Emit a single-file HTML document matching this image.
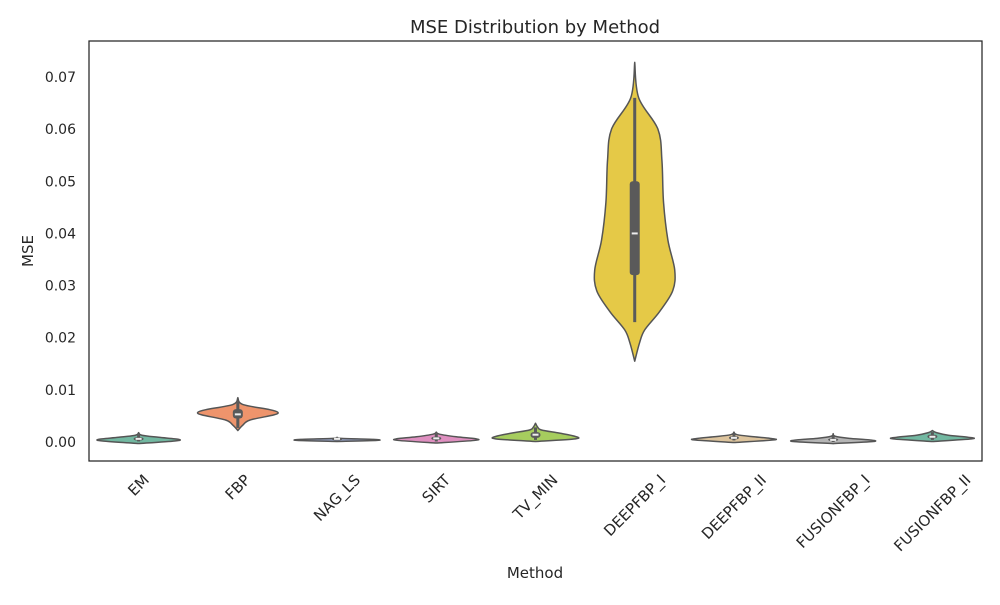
<!DOCTYPE html>
<html><head><meta charset="utf-8"><style>
body{margin:0;background:#fff;font-family:"Liberation Sans","DejaVu Sans",sans-serif}
svg text{font-family:"DejaVu Sans","Liberation Sans",sans-serif;fill:#262626}
</style></head><body>
<svg id="chart" width="1000" height="600">
<rect width="1000" height="600" fill="#fff"/>
<text x="535" y="33" font-size="18" text-anchor="middle">MSE Distribution by Method</text>
<g id="plot"></g>
<rect x="89" y="41" width="893" height="420" fill="none" stroke="#262626" stroke-width="1.25"/>
<text x="535" y="578" font-size="15" text-anchor="middle">Method</text>
<text transform="translate(33,251) rotate(-90)" font-size="15" text-anchor="middle">MSE</text>
</svg>
<script>
const categories=["EM","FBP","NAG_LS","SIRT","TV_MIN","DEEPFBP_I","DEEPFBP_II","FUSIONFBP_I","FUSIONFBP_II"];
const colors=["#72b8a1","#ee946c","#95a2c6","#df8fc0","#a6cd5e","#e5c947","#ddc49d","#b5b5b5","#72b8a1"];
const yTicks=[0,0.01,0.02,0.03,0.04,0.05,0.06,0.07];
const yTickLabels=["0.00","0.01","0.02","0.03","0.04","0.05","0.06","0.07"];
const profVals=[
[-0.0003,0.0002,0.0005,0.0009,0.0013,0.0018],
[0.0022,0.0032,0.0042,0.0052,0.0057,0.0062,0.0072,0.0085],
[0.0001,0.0003,0.0005,0.0007,0.0009],
[-0.0002,0.0003,0.0006,0.001,0.0015,0.0019],
[0.0001,0.0006,0.0011,0.0017,0.0023,0.0029,0.0036],
[0.0155,0.019,0.0215,0.025,0.029,0.033,0.0387,0.046,0.054,0.06,0.066,0.0728],
[-0.0001,0.0004,0.0007,0.001,0.0014,0.0019],
[-0.0003,0.0001,0.0004,0.0007,0.0011,0.0016],
[0.0001,0.0006,0.0009,0.0013,0.0018,0.0022]];
const profW=[
[0,0.9,1,0.5,0.08,0],
[0,0.12,0.3,0.9,1,0.8,0.12,0],
[0,1,0.9,0.1,0],
[0,0.95,1,0.5,0.08,0],
[0,1,0.98,0.6,0.15,0.05,0],
[0,0.12,0.25,0.62,0.95,1,0.83,0.72,0.68,0.58,0.1,0],
[0,1,0.9,0.5,0.08,0],
[0,1,0.9,0.4,0.05,0],
[0,0.98,0.9,0.4,0.1,0]];
const whiskLo=[0.0001,0.0027,0.0004,0.0001,0.0004,0.023,0.0003,0.0,0.0004];
const q1=[0.0003,0.0045,0.0005,0.0004,0.0008,0.032,0.0005,0.0002,0.0007];
const med=[0.0006,0.0053,0.0006,0.0007,0.0014,0.040,0.0008,0.0004,0.001];
const q3=[0.0009,0.0063,0.0007,0.001,0.0019,0.050,0.0011,0.0007,0.0014];
const whiskHi=[0.0014,0.0078,0.0009,0.0016,0.0028,0.066,0.0016,0.0012,0.0019];

const X0=89,W=893,Y0=442,PX=5214;
const xScale=i=>X0+W/categories.length*(i+0.5);
const yScale=v=>Y0-v*PX;
const HALF=40;
const ns="http://www.w3.org/2000/svg";
const plot=document.getElementById('plot'), svg=document.getElementById('chart');
function mk(t,a,p){const e=document.createElementNS(ns,t);for(const k in a)e.setAttribute(k,a[k]);(p||plot).appendChild(e);return e;}
function smooth(pts){let d=`M${pts[0][0]},${pts[0][1]}`;for(let i=0;i<pts.length-1;i++){const p0=pts[i-1]||pts[i],p1=pts[i],p2=pts[i+1],p3=pts[i+2]||p2;
d+=` C${p1[0]+(p2[0]-p0[0])/6},${p1[1]+(p2[1]-p0[1])/6} ${p2[0]-(p3[0]-p1[0])/6},${p2[1]-(p3[1]-p1[1])/6} ${p2[0]},${p2[1]}`;}return d;}
yTicks.forEach((t,i)=>{
 const tx=mk('text',{x:76,y:yScale(t)+5,'font-size':14,'text-anchor':'end'},svg);
 tx.textContent=yTickLabels[i];
 
 
});
categories.forEach((c,i)=>{
 const cx=xScale(i);
 const right=profVals[i].map((v,j)=>[cx+profW[i][j]*HALF,yScale(v)]);
 const left=profVals[i].map((v,j)=>[cx-profW[i][j]*HALF,yScale(v)]).reverse();
 const d=smooth(right)+' L'+smooth(left).slice(1)+'Z';
 const p=mk('path',{d:d,fill:colors[i],stroke:'#555',"stroke-width":1.5,"stroke-linejoin":"round"});
 
 
 const w=mk('line',{x1:cx,x2:cx,y1:yScale(whiskLo[i]),y2:yScale(whiskHi[i]),stroke:'#5a5a5a','stroke-width':3});
 
 
 const b=mk('rect',{x:cx-5,y:yScale(q3[i]),width:10,height:Math.max(2,yScale(q1[i])-yScale(q3[i])),rx:3,fill:'#5a5a5a'});
 
 
 const m=mk('line',{x1:cx-3,x2:cx+3,y1:yScale(med[i]),y2:yScale(med[i]),stroke:'#eee','stroke-width':2});
 
 
 const tx=mk('text',{'font-size':15,'text-anchor':'middle','dominant-baseline':'central'},svg);
 tx.textContent=c;
 
 
 const L=tx.getComputedTextLength();
 const half=(L+15)*0.7071/2;
 tx.setAttribute('transform',`translate(${cx},${472+half}) rotate(-45)`);
});
</script>
</body></html>
